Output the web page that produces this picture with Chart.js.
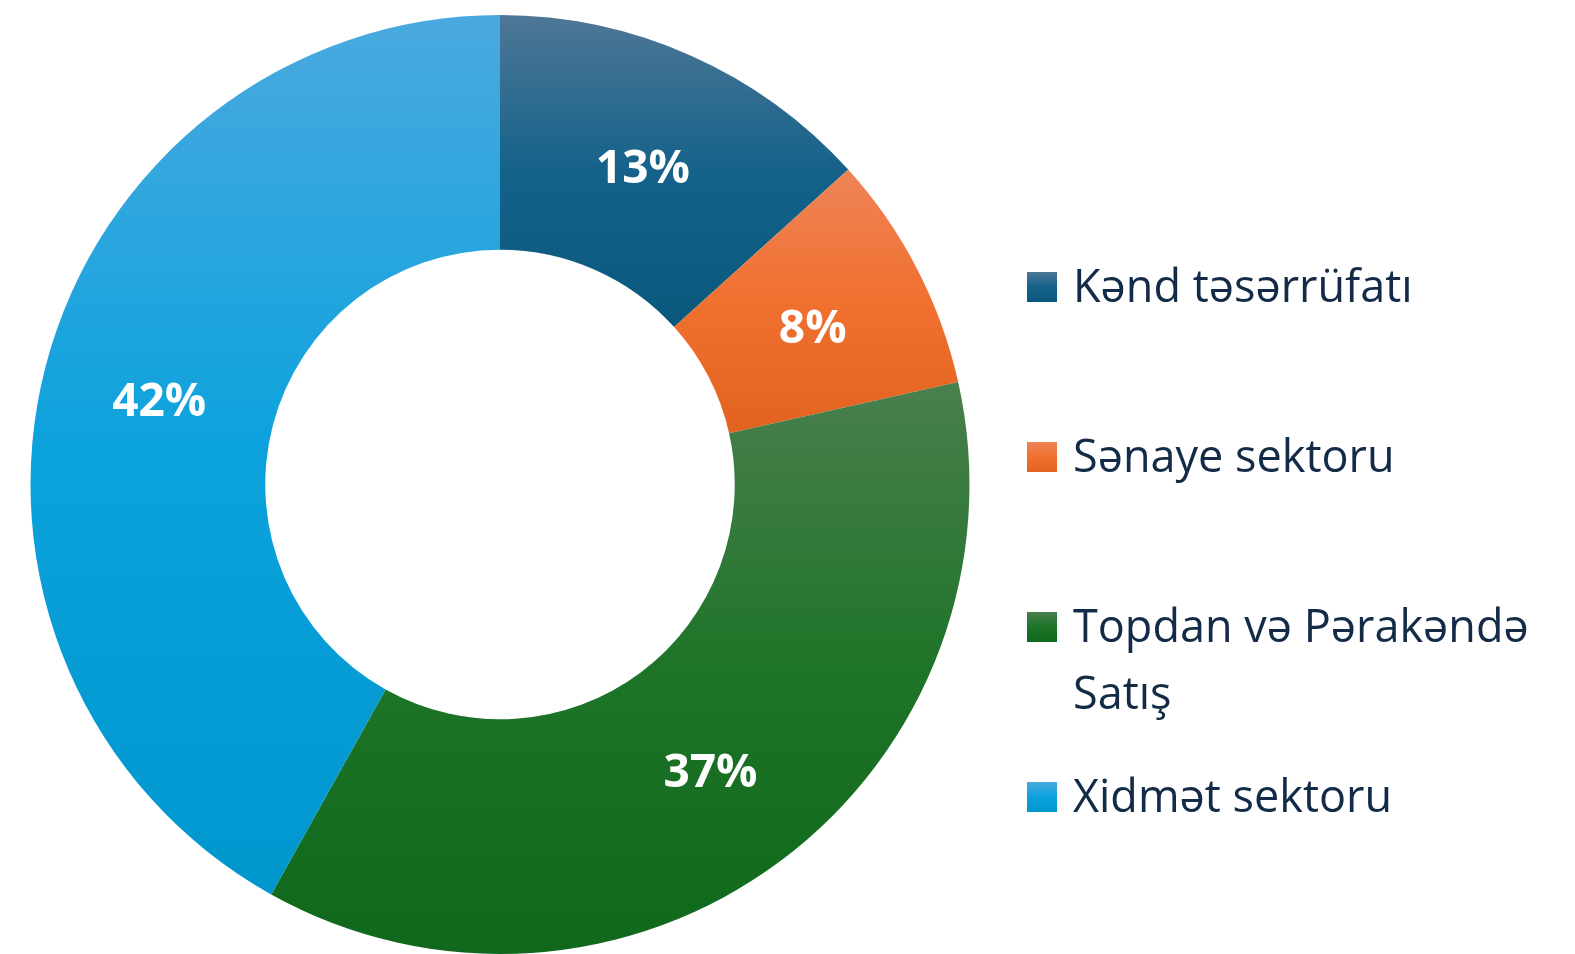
<!DOCTYPE html>
<html>
<head>
<meta charset="utf-8">
<script src="https://cdn.jsdelivr.net/npm/chart.js@4/dist/chart.umd.min.js"></script>
<style>
  body { margin: 0; background: #fff; }
  #wrap { position: relative; width: 1575px; height: 954px; overflow: hidden; }
  #chart { position: absolute; left: 0; top: 0; }
  #legend {
    position: absolute; left: 1027px; top: 0; margin: 0; padding: 0; list-style: none;
    font-family: "Open Sans", sans-serif; font-size: 45px; line-height: 67px;
    color: #132b47;
  }
  #legend li { position: absolute; left: 0; display: flex; align-items: flex-start; }
  #legend .box { width: 30px; height: 30px; margin-top: 21px; flex: none; }
  #legend .txt { margin-left: 16px; width: 490px; }
</style>
</head>
<body>
<div id="wrap">
  <canvas id="chart" width="1575" height="954"></canvas>
  <ul id="legend"></ul>
</div>
<script>
const labels = ["Kənd təsərrüfatı", "Sənaye sektoru", "Topdan və Pərakəndə Satış", "Xidmət sektoru"];
const shares = [13.3, 8.2, 36.6, 41.9];

// light top -> base bottom, per slice
const gradStops = [
    ["#4e7796", "#14628a", "#0a587c"],
    ["#ef8457", "#f07030", "#e2621f"],
    ["#4a7f4e", "#1e7428", "#0f681b"],
    ["#4aa9df", "#0ba2dd", "#0097cf"]
];

// legend (entries evenly spaced like the original)
const legendEl = document.getElementById("legend");
labels.forEach((lab, i) => {
    const li = document.createElement("li");
    const c = gradStops[i];
    li.style.top = (251 + 170 * i) + "px";
    li.innerHTML = '<span class="box" style="background:linear-gradient(' + c[0] + ',' + c[1] + ' 50%,' + c[2] + ')"></span>' +
        '<span class="txt">' + lab + '</span>';
    legendEl.appendChild(li);
});

// give each slice its own vertical gradient over its own extent
const sliceGradients = {
    id: "sliceGradients",
    beforeDatasetsDraw(chart) {
        const ctx = chart.ctx;
        chart.getDatasetMeta(0).data.forEach((arc, i) => {
            const p = arc.getProps(["x", "y", "startAngle", "endAngle", "innerRadius", "outerRadius"], true);
            let top = Infinity, bot = -Infinity;
            for (let k = 0; k <= 60; k++) {
                const a = p.startAngle + (p.endAngle - p.startAngle) * k / 60;
                [p.innerRadius, p.outerRadius].forEach(r => {
                    const y = p.y + r * Math.sin(a);
                    top = Math.min(top, y);
                    bot = Math.max(bot, y);
                });
            }
            const g = ctx.createLinearGradient(0, top, 0, bot);
            g.addColorStop(0, gradStops[i][0]);
            g.addColorStop(0.5, gradStops[i][1]);
            g.addColorStop(1, gradStops[i][2]);
            arc.options.backgroundColor = g;
        });
    }
};

const sliceLabels = {
    id: "sliceLabels",
    afterDatasetsDraw(chart) {
        const ctx = chart.ctx;
        const total = shares.reduce((a, b) => a + b, 0);
        ctx.save();
        ctx.fillStyle = "#ffffff";
        ctx.font = "bold 46px 'Open Sans', sans-serif";
        ctx.textAlign = "center";
        ctx.textBaseline = "middle";
        chart.getDatasetMeta(0).data.forEach((arc, i) => {
            const pos = arc.tooltipPosition();
            ctx.fillText(Math.round(shares[i] / total * 100) + "%", pos.x, pos.y + 7);
        });
        ctx.restore();
    }
};

new Chart("chart", {
    type: "doughnut",
    data: {
        labels: labels,
        datasets: [{
            data: shares,
            backgroundColor: gradStops.map(c => c[1]),
            borderWidth: 0
        }]
    },
    options: {
        responsive: false,
        animation: false,
        cutout: "50%",
        layout: { padding: { left: 30, right: 605, top: 15, bottom: 0 } },
        plugins: {
            legend: { display: false },
            tooltip: { enabled: false }
        }
    },
    plugins: [sliceGradients, sliceLabels]
});
</script>
</body>
</html>
